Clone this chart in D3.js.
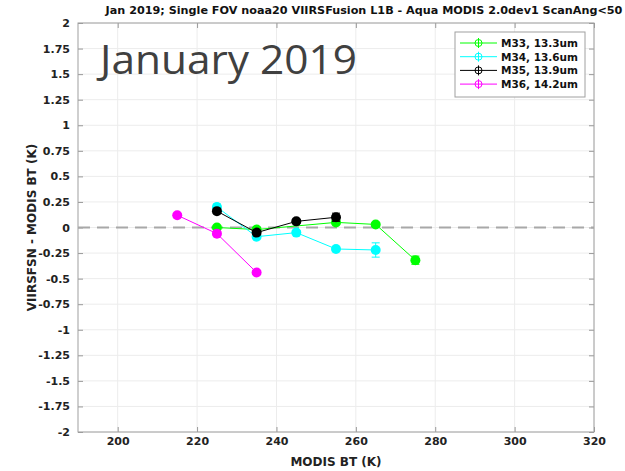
<!DOCTYPE html>
<html>
<head>
<meta charset="utf-8">
<script src="https://cdn.jsdelivr.net/npm/d3@7"></script>
<style>
  body { margin: 0; background: #fff; }
  svg text { font-family: "DejaVu Sans", sans-serif; }
</style>
</head>
<body>
<svg id="chart"></svg>
<script>
// channel data: MODIS BT bins (K) and VIIRS - MODIS differences (K)
var seriesNames = ["M33, 13.3um", "M34, 13.6um", "M35, 13.9um", "M36, 14.2um"];
var seriesColors = ["#00ff00", "#00ffff", "#000000", "#ff00ff"];

var m33_bt = [225, 235, 255, 265, 275];
var m33_diff = [0.00, -0.02, 0.05, 0.03, -0.32];
var m33_err = [0.01, 0.02, 0.02, 0.02, 0.04];

var m34_bt = [225, 235, 245, 255, 265];
var m34_diff = [0.20, -0.09, -0.05, -0.21, -0.22];
var m34_err = [0.03, 0.02, 0.02, 0.02, 0.07];

var m35_bt = [225, 235, 245, 255];
var m35_diff = [0.16, -0.05, 0.06, 0.10];
var m35_err = [0.02, 0.02, 0.02, 0.04];

var m36_bt = [215, 225, 235];
var m36_diff = [0.12, -0.06, -0.44];
var m36_err = [0.01, 0.01, 0.02];

var xTicks = [200, 220, 240, 260, 280, 300, 320];
var yTicks = [2, 1.75, 1.5, 1.25, 1, 0.75, 0.5, 0.25, 0, -0.25, -0.5, -0.75, -1, -1.25, -1.5, -1.75, -2];

var title = "Jan 2019; Single FOV noaa20 VIIRSFusion L1B - Aqua MODIS 2.0dev1 ScanAng<50";
var overlayText = "January 2019";

var width = 625, height = 471;
var margin = {top: 23, right: 31, bottom: 39, left: 78};
var w = width - margin.left - margin.right,
    h = height - margin.top - margin.bottom;

var svg = d3.select("#chart")
    .attr("width", width)
    .attr("height", height);

var g = svg.append("g")
    .attr("transform", "translate(" + margin.left + "," + margin.top + ")");

var x = d3.scaleLinear().domain([190, 320]).range([0, w]);
var y = d3.scaleLinear().domain([-2, 2]).range([h, 0]);

// grid
g.selectAll(".vgrid").data(xTicks).enter().append("line")
    .attr("x1", function(d) { return x(d); })
    .attr("x2", function(d) { return x(d); })
    .attr("y1", 0).attr("y2", h)
    .attr("stroke", "#ececec");
g.selectAll(".hgrid").data(yTicks).enter().append("line")
    .attr("y1", function(d) { return y(d); })
    .attr("y2", function(d) { return y(d); })
    .attr("x1", 0).attr("x2", w)
    .attr("stroke", "#ececec");

// axes (ticks pointing in, matlab style)
var fmt = function(d) { return String(d); };
var xAxis = d3.axisBottom(x).tickValues(xTicks).tickSize(-5).tickPadding(5).tickFormat(fmt);
var yAxis = d3.axisLeft(y).tickValues(yTicks).tickSize(-5).tickPadding(8).tickFormat(fmt);

var gx = g.append("g").attr("transform", "translate(0," + h + ")").call(xAxis);
var gy = g.append("g").call(yAxis);
g.append("g").call(d3.axisTop(x).tickValues(xTicks).tickSize(-5).tickFormat(""));
g.append("g").attr("transform", "translate(" + w + ",0)")
    .call(d3.axisRight(y).tickValues(yTicks).tickSize(-5).tickFormat(""));

g.selectAll(".domain").remove();
g.selectAll(".tick line").attr("stroke", "#999");
[gx, gy].forEach(function(a) {
    a.selectAll("text")
        .style("font-size", "11px")
        .style("font-weight", "bold")
        .attr("fill", "#222");
});

g.append("rect")
    .attr("width", w).attr("height", h)
    .attr("fill", "none")
    .attr("stroke", "#a0a0a0");

// zero reference line
g.append("line")
    .attr("x1", 0).attr("x2", w)
    .attr("y1", y(0)).attr("y2", y(0))
    .attr("stroke", "#a8a8a8")
    .attr("stroke-width", 2)
    .attr("stroke-dasharray", "12,7");

// series
var series = [
    {bt: m33_bt, diff: m33_diff, err: m33_err},
    {bt: m34_bt, diff: m34_diff, err: m34_err},
    {bt: m35_bt, diff: m35_diff, err: m35_err},
    {bt: m36_bt, diff: m36_diff, err: m36_err}
];

var line = d3.line()
    .x(function(d) { return x(d.bt); })
    .y(function(d) { return y(d.diff); });

series.forEach(function(s, i) {
    var pts = s.bt.map(function(b, j) {
        return {bt: b, diff: s.diff[j], err: s.err[j]};
    });
    var col = seriesColors[i];
    var sg = g.append("g");
    sg.append("path")
        .datum(pts)
        .attr("d", line)
        .attr("fill", "none")
        .attr("stroke", col)
        .attr("stroke-width", 1);
    var eb = sg.selectAll(".err").data(pts).enter().append("g");
    eb.append("line")
        .attr("x1", function(d) { return x(d.bt); })
        .attr("x2", function(d) { return x(d.bt); })
        .attr("y1", function(d) { return y(d.diff - d.err); })
        .attr("y2", function(d) { return y(d.diff + d.err); })
        .attr("stroke", col);
    [-1, 1].forEach(function(sgn) {
        eb.append("line")
            .attr("x1", function(d) { return x(d.bt) - 4; })
            .attr("x2", function(d) { return x(d.bt) + 4; })
            .attr("y1", function(d) { return y(d.diff + sgn * d.err); })
            .attr("y2", function(d) { return y(d.diff + sgn * d.err); })
            .attr("stroke", col);
    });
    sg.selectAll("circle").data(pts).enter().append("circle")
        .attr("cx", function(d) { return x(d.bt); })
        .attr("cy", function(d) { return y(d.diff); })
        .attr("r", 5)
        .attr("fill", col);
});

// legend
var lg = svg.append("g").attr("transform", "translate(455,32)");
lg.append("rect")
    .attr("width", 130).attr("height", 65)
    .attr("fill", "#fff")
    .attr("stroke", "#a0a0a0");
seriesNames.forEach(function(name, i) {
    var ly = 11 + i * 13.7;
    var col = seriesColors[i];
    lg.append("line")
        .attr("x1", 5).attr("x2", 42)
        .attr("y1", ly).attr("y2", ly)
        .attr("stroke", col);
    lg.append("line")
        .attr("x1", 23.5).attr("x2", 23.5)
        .attr("y1", ly - 5).attr("y2", ly + 5)
        .attr("stroke", col);
    lg.append("circle")
        .attr("cx", 23.5).attr("cy", ly)
        .attr("r", 3.5)
        .attr("fill", "none")
        .attr("stroke", col);
    lg.append("text")
        .attr("x", 46).attr("y", ly + 4)
        .style("font-size", "10.5px")
        .style("font-weight", "bold")
        .attr("fill", "#111")
        .text(name);
});

// title and labels
svg.append("text")
    .attr("x", margin.left + w / 2 + 28)
    .attr("y", 14)
    .attr("text-anchor", "middle")
    .style("font-size", "11.2px")
    .style("font-weight", "bold")
    .attr("fill", "#111")
    .text(title);

svg.append("text")
    .attr("x", margin.left + w / 2)
    .attr("y", 466)
    .attr("text-anchor", "middle")
    .style("font-size", "12px")
    .style("font-weight", "bold")
    .attr("fill", "#222")
    .text("MODIS BT (K)");

svg.append("text")
    .attr("transform", "translate(36," + (margin.top + h / 2) + ") rotate(-90)")
    .attr("text-anchor", "middle")
    .style("font-size", "12px")
    .style("font-weight", "bold")
    .attr("fill", "#222")
    .text("VIIRSFSN - MODIS BT (K)");

svg.append("text")
    .attr("x", 100)
    .attr("y", 74)
    .attr("textLength", 257)
    .attr("lengthAdjust", "spacingAndGlyphs")
    .style("font-family", "'Open Sans', sans-serif")
    .style("font-size", "40px")
    .attr("fill", "#404040")
    .text(overlayText);
</script>
</body>
</html>
